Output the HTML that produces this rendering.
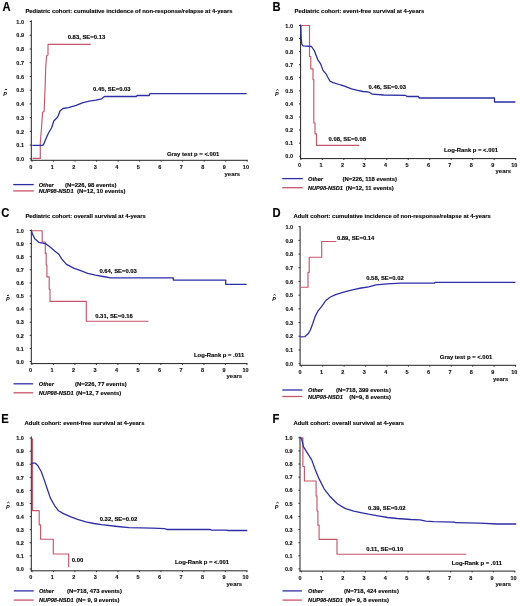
<!DOCTYPE html>
<html><head><meta charset="utf-8"><style>
html,body{margin:0;padding:0;background:#fff;overflow:hidden;}
svg{display:block;font-family:"Liberation Sans", sans-serif;will-change:transform;}
</style></head><body>
<svg width="520" height="606" viewBox="0 0 520 606">
<rect width="520" height="606" fill="#fff"/>
<g transform="translate(2.60,11.00) scale(1,1.09)">
<text x="0.00" y="0.00" font-size="11.2" text-anchor="start" font-weight="bold" font-style="normal" fill="#000" stroke="#000" stroke-width="0.12" >A</text>
</g>
<text x="25.40" y="12.70" font-size="5.9" text-anchor="start" font-weight="bold" font-style="normal" fill="#000" stroke="#000" stroke-width="0.12" >Pediatric cohort: cumulative incidence of non-response/relapse at 4-years</text>
<line x1="31.30" y1="20.20" x2="31.30" y2="160.80" stroke="#222" stroke-width="1.0"/>
<line x1="30.80" y1="160.30" x2="247.80" y2="160.30" stroke="#222" stroke-width="1.0"/>
<line x1="29.70" y1="158.80" x2="31.30" y2="158.80" stroke="#222" stroke-width="0.9"/>
<text x="24.00" y="161.00" font-size="5.5" text-anchor="end" font-weight="bold" font-style="normal" fill="#111" stroke="#111" stroke-width="0.12" >0.0</text>
<line x1="29.70" y1="145.07" x2="31.30" y2="145.07" stroke="#222" stroke-width="0.9"/>
<text x="24.00" y="147.27" font-size="5.5" text-anchor="end" font-weight="bold" font-style="normal" fill="#111" stroke="#111" stroke-width="0.12" >0.1</text>
<line x1="29.70" y1="131.34" x2="31.30" y2="131.34" stroke="#222" stroke-width="0.9"/>
<text x="24.00" y="133.54" font-size="5.5" text-anchor="end" font-weight="bold" font-style="normal" fill="#111" stroke="#111" stroke-width="0.12" >0.2</text>
<line x1="29.70" y1="117.61" x2="31.30" y2="117.61" stroke="#222" stroke-width="0.9"/>
<text x="24.00" y="119.81" font-size="5.5" text-anchor="end" font-weight="bold" font-style="normal" fill="#111" stroke="#111" stroke-width="0.12" >0.3</text>
<line x1="29.70" y1="103.88" x2="31.30" y2="103.88" stroke="#222" stroke-width="0.9"/>
<text x="24.00" y="106.08" font-size="5.5" text-anchor="end" font-weight="bold" font-style="normal" fill="#111" stroke="#111" stroke-width="0.12" >0.4</text>
<line x1="29.70" y1="90.15" x2="31.30" y2="90.15" stroke="#222" stroke-width="0.9"/>
<text x="24.00" y="92.35" font-size="5.5" text-anchor="end" font-weight="bold" font-style="normal" fill="#111" stroke="#111" stroke-width="0.12" >0.5</text>
<line x1="29.70" y1="76.42" x2="31.30" y2="76.42" stroke="#222" stroke-width="0.9"/>
<text x="24.00" y="78.62" font-size="5.5" text-anchor="end" font-weight="bold" font-style="normal" fill="#111" stroke="#111" stroke-width="0.12" >0.6</text>
<line x1="29.70" y1="62.69" x2="31.30" y2="62.69" stroke="#222" stroke-width="0.9"/>
<text x="24.00" y="64.89" font-size="5.5" text-anchor="end" font-weight="bold" font-style="normal" fill="#111" stroke="#111" stroke-width="0.12" >0.7</text>
<line x1="29.70" y1="48.96" x2="31.30" y2="48.96" stroke="#222" stroke-width="0.9"/>
<text x="24.00" y="51.16" font-size="5.5" text-anchor="end" font-weight="bold" font-style="normal" fill="#111" stroke="#111" stroke-width="0.12" >0.8</text>
<line x1="29.70" y1="35.23" x2="31.30" y2="35.23" stroke="#222" stroke-width="0.9"/>
<text x="24.00" y="37.43" font-size="5.5" text-anchor="end" font-weight="bold" font-style="normal" fill="#111" stroke="#111" stroke-width="0.12" >0.9</text>
<line x1="29.70" y1="21.50" x2="31.30" y2="21.50" stroke="#222" stroke-width="0.9"/>
<text x="24.00" y="23.70" font-size="5.5" text-anchor="end" font-weight="bold" font-style="normal" fill="#111" stroke="#111" stroke-width="0.12" >1.0</text>
<line x1="32.00" y1="160.30" x2="32.00" y2="161.70" stroke="#222" stroke-width="0.9"/>
<text x="30.70" y="168.90" font-size="5.5" text-anchor="middle" font-weight="bold" font-style="normal" fill="#111" stroke="#111" stroke-width="0.12" >0</text>
<line x1="53.52" y1="160.30" x2="53.52" y2="161.70" stroke="#222" stroke-width="0.9"/>
<text x="52.22" y="168.90" font-size="5.5" text-anchor="middle" font-weight="bold" font-style="normal" fill="#111" stroke="#111" stroke-width="0.12" >1</text>
<line x1="75.04" y1="160.30" x2="75.04" y2="161.70" stroke="#222" stroke-width="0.9"/>
<text x="73.74" y="168.90" font-size="5.5" text-anchor="middle" font-weight="bold" font-style="normal" fill="#111" stroke="#111" stroke-width="0.12" >2</text>
<line x1="96.56" y1="160.30" x2="96.56" y2="161.70" stroke="#222" stroke-width="0.9"/>
<text x="95.26" y="168.90" font-size="5.5" text-anchor="middle" font-weight="bold" font-style="normal" fill="#111" stroke="#111" stroke-width="0.12" >3</text>
<line x1="118.08" y1="160.30" x2="118.08" y2="161.70" stroke="#222" stroke-width="0.9"/>
<text x="116.78" y="168.90" font-size="5.5" text-anchor="middle" font-weight="bold" font-style="normal" fill="#111" stroke="#111" stroke-width="0.12" >4</text>
<line x1="139.60" y1="160.30" x2="139.60" y2="161.70" stroke="#222" stroke-width="0.9"/>
<text x="138.30" y="168.90" font-size="5.5" text-anchor="middle" font-weight="bold" font-style="normal" fill="#111" stroke="#111" stroke-width="0.12" >5</text>
<line x1="161.12" y1="160.30" x2="161.12" y2="161.70" stroke="#222" stroke-width="0.9"/>
<text x="159.82" y="168.90" font-size="5.5" text-anchor="middle" font-weight="bold" font-style="normal" fill="#111" stroke="#111" stroke-width="0.12" >6</text>
<line x1="182.64" y1="160.30" x2="182.64" y2="161.70" stroke="#222" stroke-width="0.9"/>
<text x="181.34" y="168.90" font-size="5.5" text-anchor="middle" font-weight="bold" font-style="normal" fill="#111" stroke="#111" stroke-width="0.12" >7</text>
<line x1="204.16" y1="160.30" x2="204.16" y2="161.70" stroke="#222" stroke-width="0.9"/>
<text x="202.86" y="168.90" font-size="5.5" text-anchor="middle" font-weight="bold" font-style="normal" fill="#111" stroke="#111" stroke-width="0.12" >8</text>
<line x1="225.68" y1="160.30" x2="225.68" y2="161.70" stroke="#222" stroke-width="0.9"/>
<text x="224.38" y="168.90" font-size="5.5" text-anchor="middle" font-weight="bold" font-style="normal" fill="#111" stroke="#111" stroke-width="0.12" >9</text>
<line x1="247.20" y1="160.30" x2="247.20" y2="161.70" stroke="#222" stroke-width="0.9"/>
<text x="245.90" y="168.90" font-size="5.5" text-anchor="middle" font-weight="bold" font-style="normal" fill="#111" stroke="#111" stroke-width="0.12" >10</text>
<text x="224.60" y="175.60" font-size="5.9" text-anchor="start" font-weight="bold" font-style="normal" fill="#111" stroke="#111" stroke-width="0.12" >years</text>
<text x="5.05" y="95.70" font-size="5.4" font-weight="bold" font-style="italic" text-anchor="middle" fill="#000">P</text>
<path d="M4.85,89.95 L5.95,89.15 L7.05,89.95" fill="none" stroke="#000" stroke-width="0.9"/>
<polyline points="32.40,158.40 40.30,158.40 40.30,143.00 41.50,128.00 42.60,112.30 44.10,111.50 45.00,90.00 45.70,67.70 46.60,56.00 48.00,55.00 48.00,44.40 90.80,44.40" fill="none" stroke="#c8566a" stroke-width="1.15" stroke-linejoin="round"/>
<polyline points="32.30,145.40 42.80,145.40 43.80,144.00 45.40,140.00 48.50,133.00 51.50,128.00 53.80,121.00 57.70,117.00 60.00,111.00 63.00,108.50 68.50,107.70 76.20,105.40 82.30,102.80 89.20,101.20 96.00,100.20 101.50,98.80 104.60,96.50 136.20,96.50 137.20,95.50 149.20,95.50 149.80,93.60 246.60,93.60" fill="none" stroke="#2e2ea6" stroke-width="1.3" stroke-linejoin="round"/>
<text x="67.70" y="38.60" font-size="5.9" text-anchor="start" font-weight="bold" font-style="normal" fill="#000" stroke="#000" stroke-width="0.12" >0.83, SE=0.13</text>
<text x="93.10" y="91.10" font-size="5.9" text-anchor="start" font-weight="bold" font-style="normal" fill="#000" stroke="#000" stroke-width="0.12" >0.45, SE=0.03</text>
<text x="166.90" y="156.10" font-size="5.9" text-anchor="start" font-weight="bold" font-style="normal" fill="#000" stroke="#000" stroke-width="0.12" >Gray test p = &lt;.001</text>
<line x1="13.20" y1="184.60" x2="33.80" y2="184.60" stroke="#2e2ea6" stroke-width="1.3"/>
<line x1="13.20" y1="190.90" x2="33.80" y2="190.90" stroke="#c8566a" stroke-width="1.3"/>
<text x="38.70" y="186.80" font-size="5.65" text-anchor="start" font-weight="bold" font-style="italic" fill="#000" stroke="#000" stroke-width="0.12" >Other</text>
<text x="38.70" y="193.10" font-size="5.6" text-anchor="start" font-weight="bold" font-style="italic" fill="#000" stroke="#000" stroke-width="0.12" >NUP98-NSD1</text>
<text x="65.00" y="186.80" font-size="5.9" text-anchor="start" font-weight="bold" font-style="normal" fill="#000" stroke="#000" stroke-width="0.12" >(N=226, 98 events)</text>
<text x="77.10" y="193.10" font-size="5.9" text-anchor="start" font-weight="bold" font-style="normal" fill="#000" stroke="#000" stroke-width="0.12" >(N=12, 10 events)</text>
<g transform="translate(272.40,11.00) scale(1,1.09)">
<text x="0.00" y="0.00" font-size="11.2" text-anchor="start" font-weight="bold" font-style="normal" fill="#000" stroke="#000" stroke-width="0.12" >B</text>
</g>
<text x="294.60" y="12.80" font-size="5.9" text-anchor="start" font-weight="bold" font-style="normal" fill="#000" stroke="#000" stroke-width="0.12" >Pediatric cohort: event-free survival at 4-years</text>
<line x1="300.60" y1="24.50" x2="300.60" y2="159.10" stroke="#222" stroke-width="1.0"/>
<line x1="300.10" y1="158.60" x2="516.20" y2="158.60" stroke="#222" stroke-width="1.0"/>
<line x1="299.00" y1="156.20" x2="300.60" y2="156.20" stroke="#222" stroke-width="0.9"/>
<text x="293.00" y="158.40" font-size="5.5" text-anchor="end" font-weight="bold" font-style="normal" fill="#111" stroke="#111" stroke-width="0.12" >0.0</text>
<line x1="299.00" y1="143.13" x2="300.60" y2="143.13" stroke="#222" stroke-width="0.9"/>
<text x="293.00" y="145.33" font-size="5.5" text-anchor="end" font-weight="bold" font-style="normal" fill="#111" stroke="#111" stroke-width="0.12" >0.1</text>
<line x1="299.00" y1="130.06" x2="300.60" y2="130.06" stroke="#222" stroke-width="0.9"/>
<text x="293.00" y="132.26" font-size="5.5" text-anchor="end" font-weight="bold" font-style="normal" fill="#111" stroke="#111" stroke-width="0.12" >0.2</text>
<line x1="299.00" y1="116.99" x2="300.60" y2="116.99" stroke="#222" stroke-width="0.9"/>
<text x="293.00" y="119.19" font-size="5.5" text-anchor="end" font-weight="bold" font-style="normal" fill="#111" stroke="#111" stroke-width="0.12" >0.3</text>
<line x1="299.00" y1="103.92" x2="300.60" y2="103.92" stroke="#222" stroke-width="0.9"/>
<text x="293.00" y="106.12" font-size="5.5" text-anchor="end" font-weight="bold" font-style="normal" fill="#111" stroke="#111" stroke-width="0.12" >0.4</text>
<line x1="299.00" y1="90.85" x2="300.60" y2="90.85" stroke="#222" stroke-width="0.9"/>
<text x="293.00" y="93.05" font-size="5.5" text-anchor="end" font-weight="bold" font-style="normal" fill="#111" stroke="#111" stroke-width="0.12" >0.5</text>
<line x1="299.00" y1="77.78" x2="300.60" y2="77.78" stroke="#222" stroke-width="0.9"/>
<text x="293.00" y="79.98" font-size="5.5" text-anchor="end" font-weight="bold" font-style="normal" fill="#111" stroke="#111" stroke-width="0.12" >0.6</text>
<line x1="299.00" y1="64.71" x2="300.60" y2="64.71" stroke="#222" stroke-width="0.9"/>
<text x="293.00" y="66.91" font-size="5.5" text-anchor="end" font-weight="bold" font-style="normal" fill="#111" stroke="#111" stroke-width="0.12" >0.7</text>
<line x1="299.00" y1="51.64" x2="300.60" y2="51.64" stroke="#222" stroke-width="0.9"/>
<text x="293.00" y="53.84" font-size="5.5" text-anchor="end" font-weight="bold" font-style="normal" fill="#111" stroke="#111" stroke-width="0.12" >0.8</text>
<line x1="299.00" y1="38.57" x2="300.60" y2="38.57" stroke="#222" stroke-width="0.9"/>
<text x="293.00" y="40.77" font-size="5.5" text-anchor="end" font-weight="bold" font-style="normal" fill="#111" stroke="#111" stroke-width="0.12" >0.9</text>
<line x1="299.00" y1="25.50" x2="300.60" y2="25.50" stroke="#222" stroke-width="0.9"/>
<text x="293.00" y="27.70" font-size="5.5" text-anchor="end" font-weight="bold" font-style="normal" fill="#111" stroke="#111" stroke-width="0.12" >1.0</text>
<line x1="300.90" y1="158.60" x2="300.90" y2="160.00" stroke="#222" stroke-width="0.9"/>
<text x="299.60" y="167.20" font-size="5.5" text-anchor="middle" font-weight="bold" font-style="normal" fill="#111" stroke="#111" stroke-width="0.12" >0</text>
<line x1="322.37" y1="158.60" x2="322.37" y2="160.00" stroke="#222" stroke-width="0.9"/>
<text x="321.07" y="167.20" font-size="5.5" text-anchor="middle" font-weight="bold" font-style="normal" fill="#111" stroke="#111" stroke-width="0.12" >1</text>
<line x1="343.84" y1="158.60" x2="343.84" y2="160.00" stroke="#222" stroke-width="0.9"/>
<text x="342.54" y="167.20" font-size="5.5" text-anchor="middle" font-weight="bold" font-style="normal" fill="#111" stroke="#111" stroke-width="0.12" >2</text>
<line x1="365.31" y1="158.60" x2="365.31" y2="160.00" stroke="#222" stroke-width="0.9"/>
<text x="364.01" y="167.20" font-size="5.5" text-anchor="middle" font-weight="bold" font-style="normal" fill="#111" stroke="#111" stroke-width="0.12" >3</text>
<line x1="386.78" y1="158.60" x2="386.78" y2="160.00" stroke="#222" stroke-width="0.9"/>
<text x="385.48" y="167.20" font-size="5.5" text-anchor="middle" font-weight="bold" font-style="normal" fill="#111" stroke="#111" stroke-width="0.12" >4</text>
<line x1="408.25" y1="158.60" x2="408.25" y2="160.00" stroke="#222" stroke-width="0.9"/>
<text x="406.95" y="167.20" font-size="5.5" text-anchor="middle" font-weight="bold" font-style="normal" fill="#111" stroke="#111" stroke-width="0.12" >5</text>
<line x1="429.72" y1="158.60" x2="429.72" y2="160.00" stroke="#222" stroke-width="0.9"/>
<text x="428.42" y="167.20" font-size="5.5" text-anchor="middle" font-weight="bold" font-style="normal" fill="#111" stroke="#111" stroke-width="0.12" >6</text>
<line x1="451.19" y1="158.60" x2="451.19" y2="160.00" stroke="#222" stroke-width="0.9"/>
<text x="449.89" y="167.20" font-size="5.5" text-anchor="middle" font-weight="bold" font-style="normal" fill="#111" stroke="#111" stroke-width="0.12" >7</text>
<line x1="472.66" y1="158.60" x2="472.66" y2="160.00" stroke="#222" stroke-width="0.9"/>
<text x="471.36" y="167.20" font-size="5.5" text-anchor="middle" font-weight="bold" font-style="normal" fill="#111" stroke="#111" stroke-width="0.12" >8</text>
<line x1="494.13" y1="158.60" x2="494.13" y2="160.00" stroke="#222" stroke-width="0.9"/>
<text x="492.83" y="167.20" font-size="5.5" text-anchor="middle" font-weight="bold" font-style="normal" fill="#111" stroke="#111" stroke-width="0.12" >9</text>
<line x1="515.60" y1="158.60" x2="515.60" y2="160.00" stroke="#222" stroke-width="0.9"/>
<text x="514.30" y="167.20" font-size="5.5" text-anchor="middle" font-weight="bold" font-style="normal" fill="#111" stroke="#111" stroke-width="0.12" >10</text>
<text x="495.60" y="173.30" font-size="5.9" text-anchor="start" font-weight="bold" font-style="normal" fill="#111" stroke="#111" stroke-width="0.12" >years</text>
<text x="276.90" y="95.90" font-size="5.4" font-weight="bold" font-style="italic" text-anchor="middle" fill="#000">P</text>
<path d="M276.40,90.35 L277.50,89.55 L278.60,90.35" fill="none" stroke="#000" stroke-width="0.9"/>
<polyline points="300.80,25.50 309.50,25.50 309.50,56.50 310.80,56.50 310.80,68.80 313.00,68.80 313.00,79.60 313.80,79.60 313.80,123.00 315.00,123.00 315.00,133.80 316.50,133.80 316.50,145.40 359.20,145.40" fill="none" stroke="#c8566a" stroke-width="1.15" stroke-linejoin="round"/>
<polyline points="300.80,25.50 301.20,38.00 301.80,44.20 303.00,45.80 311.50,46.50 314.60,51.20 317.70,59.60 320.80,64.20 323.00,70.40 326.20,74.20 330.00,81.20 333.00,82.70 340.80,85.00 343.80,85.80 351.50,88.80 357.70,90.40 363.00,91.50 369.20,92.20 372.30,94.20 383.80,95.00 405.40,95.30 407.00,96.50 418.50,96.50 419.20,98.00 494.50,98.00 494.50,102.00 515.40,102.00" fill="none" stroke="#2e2ea6" stroke-width="1.3" stroke-linejoin="round"/>
<text x="368.50" y="89.10" font-size="5.9" text-anchor="start" font-weight="bold" font-style="normal" fill="#000" stroke="#000" stroke-width="0.12" >0.46, SE=0.03</text>
<text x="328.50" y="141.30" font-size="5.9" text-anchor="start" font-weight="bold" font-style="normal" fill="#000" stroke="#000" stroke-width="0.12" >0.08, SE=0.08</text>
<text x="444.00" y="151.80" font-size="5.9" text-anchor="start" font-weight="bold" font-style="normal" fill="#000" stroke="#000" stroke-width="0.12" >Log-Rank p = &lt;.001</text>
<line x1="282.20" y1="178.60" x2="302.80" y2="178.60" stroke="#2e2ea6" stroke-width="1.3"/>
<line x1="282.20" y1="187.70" x2="302.80" y2="187.70" stroke="#c8566a" stroke-width="1.3"/>
<text x="308.00" y="180.80" font-size="5.65" text-anchor="start" font-weight="bold" font-style="italic" fill="#000" stroke="#000" stroke-width="0.12" >Other</text>
<text x="308.00" y="189.90" font-size="5.6" text-anchor="start" font-weight="bold" font-style="italic" fill="#000" stroke="#000" stroke-width="0.12" >NUP98-NSD1</text>
<text x="342.50" y="180.80" font-size="5.9" text-anchor="start" font-weight="bold" font-style="normal" fill="#000" stroke="#000" stroke-width="0.12" >(N=226, 118 events)</text>
<text x="345.80" y="189.90" font-size="5.9" text-anchor="start" font-weight="bold" font-style="normal" fill="#000" stroke="#000" stroke-width="0.12" >(N=12, 11 events)</text>
<g transform="translate(1.20,216.80) scale(1,1.09)">
<text x="0.00" y="0.00" font-size="11.2" text-anchor="start" font-weight="bold" font-style="normal" fill="#000" stroke="#000" stroke-width="0.12" >C</text>
</g>
<text x="25.40" y="217.70" font-size="5.9" text-anchor="start" font-weight="bold" font-style="normal" fill="#000" stroke="#000" stroke-width="0.12" >Pediatric cohort: overall survival at 4-years</text>
<line x1="31.30" y1="229.50" x2="31.30" y2="364.10" stroke="#222" stroke-width="1.0"/>
<line x1="30.80" y1="363.60" x2="247.50" y2="363.60" stroke="#222" stroke-width="1.0"/>
<line x1="29.70" y1="361.50" x2="31.30" y2="361.50" stroke="#222" stroke-width="0.9"/>
<text x="23.80" y="363.70" font-size="5.5" text-anchor="end" font-weight="bold" font-style="normal" fill="#111" stroke="#111" stroke-width="0.12" >0.0</text>
<line x1="29.70" y1="348.40" x2="31.30" y2="348.40" stroke="#222" stroke-width="0.9"/>
<text x="23.80" y="350.60" font-size="5.5" text-anchor="end" font-weight="bold" font-style="normal" fill="#111" stroke="#111" stroke-width="0.12" >0.1</text>
<line x1="29.70" y1="335.30" x2="31.30" y2="335.30" stroke="#222" stroke-width="0.9"/>
<text x="23.80" y="337.50" font-size="5.5" text-anchor="end" font-weight="bold" font-style="normal" fill="#111" stroke="#111" stroke-width="0.12" >0.2</text>
<line x1="29.70" y1="322.20" x2="31.30" y2="322.20" stroke="#222" stroke-width="0.9"/>
<text x="23.80" y="324.40" font-size="5.5" text-anchor="end" font-weight="bold" font-style="normal" fill="#111" stroke="#111" stroke-width="0.12" >0.3</text>
<line x1="29.70" y1="309.10" x2="31.30" y2="309.10" stroke="#222" stroke-width="0.9"/>
<text x="23.80" y="311.30" font-size="5.5" text-anchor="end" font-weight="bold" font-style="normal" fill="#111" stroke="#111" stroke-width="0.12" >0.4</text>
<line x1="29.70" y1="296.00" x2="31.30" y2="296.00" stroke="#222" stroke-width="0.9"/>
<text x="23.80" y="298.20" font-size="5.5" text-anchor="end" font-weight="bold" font-style="normal" fill="#111" stroke="#111" stroke-width="0.12" >0.5</text>
<line x1="29.70" y1="282.90" x2="31.30" y2="282.90" stroke="#222" stroke-width="0.9"/>
<text x="23.80" y="285.10" font-size="5.5" text-anchor="end" font-weight="bold" font-style="normal" fill="#111" stroke="#111" stroke-width="0.12" >0.6</text>
<line x1="29.70" y1="269.80" x2="31.30" y2="269.80" stroke="#222" stroke-width="0.9"/>
<text x="23.80" y="272.00" font-size="5.5" text-anchor="end" font-weight="bold" font-style="normal" fill="#111" stroke="#111" stroke-width="0.12" >0.7</text>
<line x1="29.70" y1="256.70" x2="31.30" y2="256.70" stroke="#222" stroke-width="0.9"/>
<text x="23.80" y="258.90" font-size="5.5" text-anchor="end" font-weight="bold" font-style="normal" fill="#111" stroke="#111" stroke-width="0.12" >0.8</text>
<line x1="29.70" y1="243.60" x2="31.30" y2="243.60" stroke="#222" stroke-width="0.9"/>
<text x="23.80" y="245.80" font-size="5.5" text-anchor="end" font-weight="bold" font-style="normal" fill="#111" stroke="#111" stroke-width="0.12" >0.9</text>
<line x1="29.70" y1="230.50" x2="31.30" y2="230.50" stroke="#222" stroke-width="0.9"/>
<text x="23.80" y="232.70" font-size="5.5" text-anchor="end" font-weight="bold" font-style="normal" fill="#111" stroke="#111" stroke-width="0.12" >1.0</text>
<line x1="31.90" y1="363.60" x2="31.90" y2="365.00" stroke="#222" stroke-width="0.9"/>
<text x="30.60" y="372.20" font-size="5.5" text-anchor="middle" font-weight="bold" font-style="normal" fill="#111" stroke="#111" stroke-width="0.12" >0</text>
<line x1="53.40" y1="363.60" x2="53.40" y2="365.00" stroke="#222" stroke-width="0.9"/>
<text x="52.10" y="372.20" font-size="5.5" text-anchor="middle" font-weight="bold" font-style="normal" fill="#111" stroke="#111" stroke-width="0.12" >1</text>
<line x1="74.90" y1="363.60" x2="74.90" y2="365.00" stroke="#222" stroke-width="0.9"/>
<text x="73.60" y="372.20" font-size="5.5" text-anchor="middle" font-weight="bold" font-style="normal" fill="#111" stroke="#111" stroke-width="0.12" >2</text>
<line x1="96.40" y1="363.60" x2="96.40" y2="365.00" stroke="#222" stroke-width="0.9"/>
<text x="95.10" y="372.20" font-size="5.5" text-anchor="middle" font-weight="bold" font-style="normal" fill="#111" stroke="#111" stroke-width="0.12" >3</text>
<line x1="117.90" y1="363.60" x2="117.90" y2="365.00" stroke="#222" stroke-width="0.9"/>
<text x="116.60" y="372.20" font-size="5.5" text-anchor="middle" font-weight="bold" font-style="normal" fill="#111" stroke="#111" stroke-width="0.12" >4</text>
<line x1="139.40" y1="363.60" x2="139.40" y2="365.00" stroke="#222" stroke-width="0.9"/>
<text x="138.10" y="372.20" font-size="5.5" text-anchor="middle" font-weight="bold" font-style="normal" fill="#111" stroke="#111" stroke-width="0.12" >5</text>
<line x1="160.90" y1="363.60" x2="160.90" y2="365.00" stroke="#222" stroke-width="0.9"/>
<text x="159.60" y="372.20" font-size="5.5" text-anchor="middle" font-weight="bold" font-style="normal" fill="#111" stroke="#111" stroke-width="0.12" >6</text>
<line x1="182.40" y1="363.60" x2="182.40" y2="365.00" stroke="#222" stroke-width="0.9"/>
<text x="181.10" y="372.20" font-size="5.5" text-anchor="middle" font-weight="bold" font-style="normal" fill="#111" stroke="#111" stroke-width="0.12" >7</text>
<line x1="203.90" y1="363.60" x2="203.90" y2="365.00" stroke="#222" stroke-width="0.9"/>
<text x="202.60" y="372.20" font-size="5.5" text-anchor="middle" font-weight="bold" font-style="normal" fill="#111" stroke="#111" stroke-width="0.12" >8</text>
<line x1="225.40" y1="363.60" x2="225.40" y2="365.00" stroke="#222" stroke-width="0.9"/>
<text x="224.10" y="372.20" font-size="5.5" text-anchor="middle" font-weight="bold" font-style="normal" fill="#111" stroke="#111" stroke-width="0.12" >9</text>
<line x1="246.90" y1="363.60" x2="246.90" y2="365.00" stroke="#222" stroke-width="0.9"/>
<text x="245.60" y="372.20" font-size="5.5" text-anchor="middle" font-weight="bold" font-style="normal" fill="#111" stroke="#111" stroke-width="0.12" >10</text>
<text x="226.60" y="378.00" font-size="5.9" text-anchor="start" font-weight="bold" font-style="normal" fill="#111" stroke="#111" stroke-width="0.12" >years</text>
<text x="7.70" y="301.30" font-size="5.4" font-weight="bold" font-style="italic" text-anchor="middle" fill="#000">P</text>
<path d="M7.00,295.85 L8.10,295.05 L9.20,295.85" fill="none" stroke="#000" stroke-width="0.9"/>
<polyline points="31.50,230.70 42.20,230.70 42.20,242.00 45.30,242.00 45.30,253.50 46.20,253.00 46.20,265.00 46.90,265.00 46.90,276.90 49.20,276.90 49.20,289.20 50.00,289.20 50.00,301.30 86.30,301.30 86.30,321.20 148.50,321.20" fill="none" stroke="#c8566a" stroke-width="1.15" stroke-linejoin="round"/>
<polyline points="31.50,230.80 32.30,233.80 34.80,238.70 38.70,242.30 45.40,243.60 49.20,246.30 55.00,251.20 58.80,254.20 61.70,258.80 66.50,264.40 74.20,268.40 80.00,270.40 87.70,273.30 95.40,275.20 103.00,276.50 110.80,277.80 173.30,277.80 173.30,280.10 225.70,280.10 225.70,284.30 246.70,284.30" fill="none" stroke="#2e2ea6" stroke-width="1.3" stroke-linejoin="round"/>
<text x="99.40" y="272.90" font-size="5.9" text-anchor="start" font-weight="bold" font-style="normal" fill="#000" stroke="#000" stroke-width="0.12" >0.64, SE=0.03</text>
<text x="95.20" y="317.50" font-size="5.9" text-anchor="start" font-weight="bold" font-style="normal" fill="#000" stroke="#000" stroke-width="0.12" >0.31, SE=0.16</text>
<text x="194.00" y="357.30" font-size="5.9" text-anchor="start" font-weight="bold" font-style="normal" fill="#000" stroke="#000" stroke-width="0.12" >Log-Rank p = .011</text>
<line x1="13.50" y1="383.80" x2="33.10" y2="383.80" stroke="#2e2ea6" stroke-width="1.3"/>
<line x1="13.50" y1="392.80" x2="33.10" y2="392.80" stroke="#c8566a" stroke-width="1.3"/>
<text x="38.80" y="386.00" font-size="5.65" text-anchor="start" font-weight="bold" font-style="italic" fill="#000" stroke="#000" stroke-width="0.12" >Other</text>
<text x="38.80" y="395.00" font-size="5.6" text-anchor="start" font-weight="bold" font-style="italic" fill="#000" stroke="#000" stroke-width="0.12" >NUP98-NSD1</text>
<text x="75.10" y="386.00" font-size="5.9" text-anchor="start" font-weight="bold" font-style="normal" fill="#000" stroke="#000" stroke-width="0.12" >(N=226, 77 events)</text>
<text x="76.10" y="395.00" font-size="5.9" text-anchor="start" font-weight="bold" font-style="normal" fill="#000" stroke="#000" stroke-width="0.12" >(N=12, 7 events)</text>
<g transform="translate(272.60,216.60) scale(1,1.09)">
<text x="0.00" y="0.00" font-size="11.2" text-anchor="start" font-weight="bold" font-style="normal" fill="#000" stroke="#000" stroke-width="0.12" >D</text>
</g>
<text x="293.50" y="217.70" font-size="5.9" text-anchor="start" font-weight="bold" font-style="normal" fill="#000" stroke="#000" stroke-width="0.12" >Adult cohort: cumulative incidence of non-response/relapse at 4-years</text>
<line x1="300.10" y1="226.20" x2="300.10" y2="365.80" stroke="#222" stroke-width="1.0"/>
<line x1="299.60" y1="365.30" x2="516.10" y2="365.30" stroke="#222" stroke-width="1.0"/>
<line x1="298.50" y1="363.60" x2="300.10" y2="363.60" stroke="#222" stroke-width="0.9"/>
<text x="293.10" y="365.80" font-size="5.5" text-anchor="end" font-weight="bold" font-style="normal" fill="#111" stroke="#111" stroke-width="0.12" >0.0</text>
<line x1="298.50" y1="349.91" x2="300.10" y2="349.91" stroke="#222" stroke-width="0.9"/>
<text x="293.10" y="352.11" font-size="5.5" text-anchor="end" font-weight="bold" font-style="normal" fill="#111" stroke="#111" stroke-width="0.12" >0.1</text>
<line x1="298.50" y1="336.22" x2="300.10" y2="336.22" stroke="#222" stroke-width="0.9"/>
<text x="293.10" y="338.42" font-size="5.5" text-anchor="end" font-weight="bold" font-style="normal" fill="#111" stroke="#111" stroke-width="0.12" >0.2</text>
<line x1="298.50" y1="322.53" x2="300.10" y2="322.53" stroke="#222" stroke-width="0.9"/>
<text x="293.10" y="324.73" font-size="5.5" text-anchor="end" font-weight="bold" font-style="normal" fill="#111" stroke="#111" stroke-width="0.12" >0.3</text>
<line x1="298.50" y1="308.84" x2="300.10" y2="308.84" stroke="#222" stroke-width="0.9"/>
<text x="293.10" y="311.04" font-size="5.5" text-anchor="end" font-weight="bold" font-style="normal" fill="#111" stroke="#111" stroke-width="0.12" >0.4</text>
<line x1="298.50" y1="295.15" x2="300.10" y2="295.15" stroke="#222" stroke-width="0.9"/>
<text x="293.10" y="297.35" font-size="5.5" text-anchor="end" font-weight="bold" font-style="normal" fill="#111" stroke="#111" stroke-width="0.12" >0.5</text>
<line x1="298.50" y1="281.46" x2="300.10" y2="281.46" stroke="#222" stroke-width="0.9"/>
<text x="293.10" y="283.66" font-size="5.5" text-anchor="end" font-weight="bold" font-style="normal" fill="#111" stroke="#111" stroke-width="0.12" >0.6</text>
<line x1="298.50" y1="267.77" x2="300.10" y2="267.77" stroke="#222" stroke-width="0.9"/>
<text x="293.10" y="269.97" font-size="5.5" text-anchor="end" font-weight="bold" font-style="normal" fill="#111" stroke="#111" stroke-width="0.12" >0.7</text>
<line x1="298.50" y1="254.08" x2="300.10" y2="254.08" stroke="#222" stroke-width="0.9"/>
<text x="293.10" y="256.28" font-size="5.5" text-anchor="end" font-weight="bold" font-style="normal" fill="#111" stroke="#111" stroke-width="0.12" >0.8</text>
<line x1="298.50" y1="240.39" x2="300.10" y2="240.39" stroke="#222" stroke-width="0.9"/>
<text x="293.10" y="242.59" font-size="5.5" text-anchor="end" font-weight="bold" font-style="normal" fill="#111" stroke="#111" stroke-width="0.12" >0.9</text>
<line x1="298.50" y1="226.70" x2="300.10" y2="226.70" stroke="#222" stroke-width="0.9"/>
<text x="293.10" y="228.90" font-size="5.5" text-anchor="end" font-weight="bold" font-style="normal" fill="#111" stroke="#111" stroke-width="0.12" >1.0</text>
<line x1="301.30" y1="365.30" x2="301.30" y2="366.70" stroke="#222" stroke-width="0.9"/>
<text x="300.00" y="373.90" font-size="5.5" text-anchor="middle" font-weight="bold" font-style="normal" fill="#111" stroke="#111" stroke-width="0.12" >0</text>
<line x1="322.72" y1="365.30" x2="322.72" y2="366.70" stroke="#222" stroke-width="0.9"/>
<text x="321.42" y="373.90" font-size="5.5" text-anchor="middle" font-weight="bold" font-style="normal" fill="#111" stroke="#111" stroke-width="0.12" >1</text>
<line x1="344.14" y1="365.30" x2="344.14" y2="366.70" stroke="#222" stroke-width="0.9"/>
<text x="342.84" y="373.90" font-size="5.5" text-anchor="middle" font-weight="bold" font-style="normal" fill="#111" stroke="#111" stroke-width="0.12" >2</text>
<line x1="365.56" y1="365.30" x2="365.56" y2="366.70" stroke="#222" stroke-width="0.9"/>
<text x="364.26" y="373.90" font-size="5.5" text-anchor="middle" font-weight="bold" font-style="normal" fill="#111" stroke="#111" stroke-width="0.12" >3</text>
<line x1="386.98" y1="365.30" x2="386.98" y2="366.70" stroke="#222" stroke-width="0.9"/>
<text x="385.68" y="373.90" font-size="5.5" text-anchor="middle" font-weight="bold" font-style="normal" fill="#111" stroke="#111" stroke-width="0.12" >4</text>
<line x1="408.40" y1="365.30" x2="408.40" y2="366.70" stroke="#222" stroke-width="0.9"/>
<text x="407.10" y="373.90" font-size="5.5" text-anchor="middle" font-weight="bold" font-style="normal" fill="#111" stroke="#111" stroke-width="0.12" >5</text>
<line x1="429.82" y1="365.30" x2="429.82" y2="366.70" stroke="#222" stroke-width="0.9"/>
<text x="428.52" y="373.90" font-size="5.5" text-anchor="middle" font-weight="bold" font-style="normal" fill="#111" stroke="#111" stroke-width="0.12" >6</text>
<line x1="451.24" y1="365.30" x2="451.24" y2="366.70" stroke="#222" stroke-width="0.9"/>
<text x="449.94" y="373.90" font-size="5.5" text-anchor="middle" font-weight="bold" font-style="normal" fill="#111" stroke="#111" stroke-width="0.12" >7</text>
<line x1="472.66" y1="365.30" x2="472.66" y2="366.70" stroke="#222" stroke-width="0.9"/>
<text x="471.36" y="373.90" font-size="5.5" text-anchor="middle" font-weight="bold" font-style="normal" fill="#111" stroke="#111" stroke-width="0.12" >8</text>
<line x1="494.08" y1="365.30" x2="494.08" y2="366.70" stroke="#222" stroke-width="0.9"/>
<text x="492.78" y="373.90" font-size="5.5" text-anchor="middle" font-weight="bold" font-style="normal" fill="#111" stroke="#111" stroke-width="0.12" >9</text>
<line x1="515.50" y1="365.30" x2="515.50" y2="366.70" stroke="#222" stroke-width="0.9"/>
<text x="514.20" y="373.90" font-size="5.5" text-anchor="middle" font-weight="bold" font-style="normal" fill="#111" stroke="#111" stroke-width="0.12" >10</text>
<text x="493.00" y="380.90" font-size="5.9" text-anchor="start" font-weight="bold" font-style="normal" fill="#111" stroke="#111" stroke-width="0.12" >years</text>
<text x="274.00" y="300.90" font-size="5.4" font-weight="bold" font-style="italic" text-anchor="middle" fill="#000">P</text>
<path d="M273.50,295.35 L274.60,294.55 L275.70,295.35" fill="none" stroke="#000" stroke-width="0.9"/>
<polyline points="300.30,287.20 308.00,287.20 308.00,272.30 309.20,272.30 309.20,257.20 321.70,257.20 321.70,241.50 336.40,241.50" fill="none" stroke="#c8566a" stroke-width="1.15" stroke-linejoin="round"/>
<polyline points="300.30,336.90 305.00,336.60 308.10,333.80 310.40,330.00 312.70,323.80 315.00,316.90 318.10,310.80 321.90,306.20 325.80,300.50 330.40,297.00 335.00,294.80 341.20,292.80 347.30,291.20 353.50,289.70 361.20,288.00 368.80,286.90 375.80,284.80 387.30,283.80 400.80,283.20 434.60,283.10 435.00,282.40 515.40,282.40" fill="none" stroke="#2e2ea6" stroke-width="1.3" stroke-linejoin="round"/>
<text x="336.90" y="239.80" font-size="5.9" text-anchor="start" font-weight="bold" font-style="normal" fill="#000" stroke="#000" stroke-width="0.12" >0.89, SE=0.14</text>
<text x="366.20" y="279.60" font-size="5.9" text-anchor="start" font-weight="bold" font-style="normal" fill="#000" stroke="#000" stroke-width="0.12" >0.58, SE=0.02</text>
<text x="439.80" y="359.40" font-size="5.9" text-anchor="start" font-weight="bold" font-style="normal" fill="#000" stroke="#000" stroke-width="0.12" >Gray test p = &lt;.001</text>
<line x1="282.30" y1="390.00" x2="302.30" y2="390.00" stroke="#2e2ea6" stroke-width="1.3"/>
<line x1="282.30" y1="396.50" x2="302.30" y2="396.50" stroke="#c8566a" stroke-width="1.3"/>
<text x="308.00" y="392.20" font-size="5.65" text-anchor="start" font-weight="bold" font-style="italic" fill="#000" stroke="#000" stroke-width="0.12" >Other</text>
<text x="308.00" y="398.70" font-size="5.6" text-anchor="start" font-weight="bold" font-style="italic" fill="#000" stroke="#000" stroke-width="0.12" >NUP98-NSD1</text>
<text x="336.00" y="392.20" font-size="5.9" text-anchor="start" font-weight="bold" font-style="normal" fill="#000" stroke="#000" stroke-width="0.12" >(N=718, 399 events)</text>
<text x="349.30" y="398.70" font-size="5.9" text-anchor="start" font-weight="bold" font-style="normal" fill="#000" stroke="#000" stroke-width="0.12" >(N=9, 8 events)</text>
<g transform="translate(1.20,422.60) scale(1,1.09)">
<text x="0.00" y="0.00" font-size="11.2" text-anchor="start" font-weight="bold" font-style="normal" fill="#000" stroke="#000" stroke-width="0.12" >E</text>
</g>
<text x="24.60" y="425.30" font-size="5.9" text-anchor="start" font-weight="bold" font-style="normal" fill="#000" stroke="#000" stroke-width="0.12" >Adult cohort: event-free survival at 4-years</text>
<line x1="31.30" y1="436.50" x2="31.30" y2="571.30" stroke="#222" stroke-width="1.0"/>
<line x1="30.80" y1="570.80" x2="247.50" y2="570.80" stroke="#222" stroke-width="1.0"/>
<line x1="29.70" y1="568.90" x2="31.30" y2="568.90" stroke="#222" stroke-width="0.9"/>
<text x="23.80" y="571.10" font-size="5.5" text-anchor="end" font-weight="bold" font-style="normal" fill="#111" stroke="#111" stroke-width="0.12" >0.0</text>
<line x1="29.70" y1="555.82" x2="31.30" y2="555.82" stroke="#222" stroke-width="0.9"/>
<text x="23.80" y="558.02" font-size="5.5" text-anchor="end" font-weight="bold" font-style="normal" fill="#111" stroke="#111" stroke-width="0.12" >0.1</text>
<line x1="29.70" y1="542.74" x2="31.30" y2="542.74" stroke="#222" stroke-width="0.9"/>
<text x="23.80" y="544.94" font-size="5.5" text-anchor="end" font-weight="bold" font-style="normal" fill="#111" stroke="#111" stroke-width="0.12" >0.2</text>
<line x1="29.70" y1="529.66" x2="31.30" y2="529.66" stroke="#222" stroke-width="0.9"/>
<text x="23.80" y="531.86" font-size="5.5" text-anchor="end" font-weight="bold" font-style="normal" fill="#111" stroke="#111" stroke-width="0.12" >0.3</text>
<line x1="29.70" y1="516.58" x2="31.30" y2="516.58" stroke="#222" stroke-width="0.9"/>
<text x="23.80" y="518.78" font-size="5.5" text-anchor="end" font-weight="bold" font-style="normal" fill="#111" stroke="#111" stroke-width="0.12" >0.4</text>
<line x1="29.70" y1="503.50" x2="31.30" y2="503.50" stroke="#222" stroke-width="0.9"/>
<text x="23.80" y="505.70" font-size="5.5" text-anchor="end" font-weight="bold" font-style="normal" fill="#111" stroke="#111" stroke-width="0.12" >0.5</text>
<line x1="29.70" y1="490.42" x2="31.30" y2="490.42" stroke="#222" stroke-width="0.9"/>
<text x="23.80" y="492.62" font-size="5.5" text-anchor="end" font-weight="bold" font-style="normal" fill="#111" stroke="#111" stroke-width="0.12" >0.6</text>
<line x1="29.70" y1="477.34" x2="31.30" y2="477.34" stroke="#222" stroke-width="0.9"/>
<text x="23.80" y="479.54" font-size="5.5" text-anchor="end" font-weight="bold" font-style="normal" fill="#111" stroke="#111" stroke-width="0.12" >0.7</text>
<line x1="29.70" y1="464.26" x2="31.30" y2="464.26" stroke="#222" stroke-width="0.9"/>
<text x="23.80" y="466.46" font-size="5.5" text-anchor="end" font-weight="bold" font-style="normal" fill="#111" stroke="#111" stroke-width="0.12" >0.8</text>
<line x1="29.70" y1="451.18" x2="31.30" y2="451.18" stroke="#222" stroke-width="0.9"/>
<text x="23.80" y="453.38" font-size="5.5" text-anchor="end" font-weight="bold" font-style="normal" fill="#111" stroke="#111" stroke-width="0.12" >0.9</text>
<line x1="29.70" y1="438.10" x2="31.30" y2="438.10" stroke="#222" stroke-width="0.9"/>
<text x="23.80" y="440.30" font-size="5.5" text-anchor="end" font-weight="bold" font-style="normal" fill="#111" stroke="#111" stroke-width="0.12" >1.0</text>
<line x1="32.00" y1="570.80" x2="32.00" y2="572.20" stroke="#222" stroke-width="0.9"/>
<text x="30.70" y="579.40" font-size="5.5" text-anchor="middle" font-weight="bold" font-style="normal" fill="#111" stroke="#111" stroke-width="0.12" >0</text>
<line x1="53.49" y1="570.80" x2="53.49" y2="572.20" stroke="#222" stroke-width="0.9"/>
<text x="52.19" y="579.40" font-size="5.5" text-anchor="middle" font-weight="bold" font-style="normal" fill="#111" stroke="#111" stroke-width="0.12" >1</text>
<line x1="74.98" y1="570.80" x2="74.98" y2="572.20" stroke="#222" stroke-width="0.9"/>
<text x="73.68" y="579.40" font-size="5.5" text-anchor="middle" font-weight="bold" font-style="normal" fill="#111" stroke="#111" stroke-width="0.12" >2</text>
<line x1="96.47" y1="570.80" x2="96.47" y2="572.20" stroke="#222" stroke-width="0.9"/>
<text x="95.17" y="579.40" font-size="5.5" text-anchor="middle" font-weight="bold" font-style="normal" fill="#111" stroke="#111" stroke-width="0.12" >3</text>
<line x1="117.96" y1="570.80" x2="117.96" y2="572.20" stroke="#222" stroke-width="0.9"/>
<text x="116.66" y="579.40" font-size="5.5" text-anchor="middle" font-weight="bold" font-style="normal" fill="#111" stroke="#111" stroke-width="0.12" >4</text>
<line x1="139.45" y1="570.80" x2="139.45" y2="572.20" stroke="#222" stroke-width="0.9"/>
<text x="138.15" y="579.40" font-size="5.5" text-anchor="middle" font-weight="bold" font-style="normal" fill="#111" stroke="#111" stroke-width="0.12" >5</text>
<line x1="160.94" y1="570.80" x2="160.94" y2="572.20" stroke="#222" stroke-width="0.9"/>
<text x="159.64" y="579.40" font-size="5.5" text-anchor="middle" font-weight="bold" font-style="normal" fill="#111" stroke="#111" stroke-width="0.12" >6</text>
<line x1="182.43" y1="570.80" x2="182.43" y2="572.20" stroke="#222" stroke-width="0.9"/>
<text x="181.13" y="579.40" font-size="5.5" text-anchor="middle" font-weight="bold" font-style="normal" fill="#111" stroke="#111" stroke-width="0.12" >7</text>
<line x1="203.92" y1="570.80" x2="203.92" y2="572.20" stroke="#222" stroke-width="0.9"/>
<text x="202.62" y="579.40" font-size="5.5" text-anchor="middle" font-weight="bold" font-style="normal" fill="#111" stroke="#111" stroke-width="0.12" >8</text>
<line x1="225.41" y1="570.80" x2="225.41" y2="572.20" stroke="#222" stroke-width="0.9"/>
<text x="224.11" y="579.40" font-size="5.5" text-anchor="middle" font-weight="bold" font-style="normal" fill="#111" stroke="#111" stroke-width="0.12" >9</text>
<line x1="246.90" y1="570.80" x2="246.90" y2="572.20" stroke="#222" stroke-width="0.9"/>
<text x="245.60" y="579.40" font-size="5.5" text-anchor="middle" font-weight="bold" font-style="normal" fill="#111" stroke="#111" stroke-width="0.12" >10</text>
<text x="226.60" y="586.10" font-size="5.9" text-anchor="start" font-weight="bold" font-style="normal" fill="#111" stroke="#111" stroke-width="0.12" >years</text>
<text x="7.70" y="508.80" font-size="5.4" font-weight="bold" font-style="italic" text-anchor="middle" fill="#000">P</text>
<path d="M7.30,502.95 L8.40,502.15 L9.50,502.95" fill="none" stroke="#000" stroke-width="0.9"/>
<polyline points="32.50,438.40 32.50,510.60 39.20,510.60 39.20,524.80 40.60,524.80 40.60,539.20 53.30,539.20 53.30,554.00 68.70,554.00 68.70,567.20" fill="none" stroke="#c8566a" stroke-width="1.15" stroke-linejoin="round"/>
<polyline points="31.30,463.20 35.40,463.20 37.90,465.70 41.20,471.50 44.50,480.60 47.80,490.50 50.30,497.90 54.40,505.30 58.50,510.80 63.50,513.60 70.90,516.90 77.50,519.30 85.80,521.80 94.00,523.50 101.50,524.60 101.50,524.60 117.70,526.50 129.20,527.60 152.30,528.10 164.80,528.60 167.00,529.50 210.30,529.50 211.30,530.10 226.20,530.10 228.30,530.50 247.30,530.50" fill="none" stroke="#2e2ea6" stroke-width="1.3" stroke-linejoin="round"/>
<text x="99.70" y="520.50" font-size="5.9" text-anchor="start" font-weight="bold" font-style="normal" fill="#000" stroke="#000" stroke-width="0.12" >0.32, SE=0.02</text>
<text x="71.80" y="562.40" font-size="5.9" text-anchor="start" font-weight="bold" font-style="normal" fill="#000" stroke="#000" stroke-width="0.12" >0.00</text>
<text x="175.00" y="563.90" font-size="5.9" text-anchor="start" font-weight="bold" font-style="normal" fill="#000" stroke="#000" stroke-width="0.12" >Log-Rank p = &lt;.001</text>
<line x1="13.80" y1="590.90" x2="33.70" y2="590.90" stroke="#2e2ea6" stroke-width="1.3"/>
<line x1="13.80" y1="600.10" x2="33.70" y2="600.10" stroke="#c8566a" stroke-width="1.3"/>
<text x="38.90" y="593.10" font-size="5.65" text-anchor="start" font-weight="bold" font-style="italic" fill="#000" stroke="#000" stroke-width="0.12" >Other</text>
<text x="38.90" y="602.30" font-size="5.6" text-anchor="start" font-weight="bold" font-style="italic" fill="#000" stroke="#000" stroke-width="0.12" >NUP98-NSD1</text>
<text x="67.00" y="593.10" font-size="5.9" text-anchor="start" font-weight="bold" font-style="normal" fill="#000" stroke="#000" stroke-width="0.12" >(N=718, 473 events)</text>
<text x="76.10" y="602.30" font-size="5.9" text-anchor="start" font-weight="bold" font-style="normal" fill="#000" stroke="#000" stroke-width="0.12" >(N= 9, 9 events)</text>
<g transform="translate(272.40,423.20) scale(1,1.09)">
<text x="0.00" y="0.00" font-size="11.2" text-anchor="start" font-weight="bold" font-style="normal" fill="#000" stroke="#000" stroke-width="0.12" >F</text>
</g>
<text x="293.50" y="425.30" font-size="5.9" text-anchor="start" font-weight="bold" font-style="normal" fill="#000" stroke="#000" stroke-width="0.12" >Adult cohort: overall survival at 4-years</text>
<line x1="300.00" y1="436.50" x2="300.00" y2="571.60" stroke="#222" stroke-width="1.0"/>
<line x1="299.50" y1="571.10" x2="515.40" y2="571.10" stroke="#222" stroke-width="1.0"/>
<line x1="298.40" y1="568.90" x2="300.00" y2="568.90" stroke="#222" stroke-width="0.9"/>
<text x="292.60" y="571.10" font-size="5.5" text-anchor="end" font-weight="bold" font-style="normal" fill="#111" stroke="#111" stroke-width="0.12" >0.0</text>
<line x1="298.40" y1="555.79" x2="300.00" y2="555.79" stroke="#222" stroke-width="0.9"/>
<text x="292.60" y="557.99" font-size="5.5" text-anchor="end" font-weight="bold" font-style="normal" fill="#111" stroke="#111" stroke-width="0.12" >0.1</text>
<line x1="298.40" y1="542.68" x2="300.00" y2="542.68" stroke="#222" stroke-width="0.9"/>
<text x="292.60" y="544.88" font-size="5.5" text-anchor="end" font-weight="bold" font-style="normal" fill="#111" stroke="#111" stroke-width="0.12" >0.2</text>
<line x1="298.40" y1="529.57" x2="300.00" y2="529.57" stroke="#222" stroke-width="0.9"/>
<text x="292.60" y="531.77" font-size="5.5" text-anchor="end" font-weight="bold" font-style="normal" fill="#111" stroke="#111" stroke-width="0.12" >0.3</text>
<line x1="298.40" y1="516.46" x2="300.00" y2="516.46" stroke="#222" stroke-width="0.9"/>
<text x="292.60" y="518.66" font-size="5.5" text-anchor="end" font-weight="bold" font-style="normal" fill="#111" stroke="#111" stroke-width="0.12" >0.4</text>
<line x1="298.40" y1="503.35" x2="300.00" y2="503.35" stroke="#222" stroke-width="0.9"/>
<text x="292.60" y="505.55" font-size="5.5" text-anchor="end" font-weight="bold" font-style="normal" fill="#111" stroke="#111" stroke-width="0.12" >0.5</text>
<line x1="298.40" y1="490.24" x2="300.00" y2="490.24" stroke="#222" stroke-width="0.9"/>
<text x="292.60" y="492.44" font-size="5.5" text-anchor="end" font-weight="bold" font-style="normal" fill="#111" stroke="#111" stroke-width="0.12" >0.6</text>
<line x1="298.40" y1="477.13" x2="300.00" y2="477.13" stroke="#222" stroke-width="0.9"/>
<text x="292.60" y="479.33" font-size="5.5" text-anchor="end" font-weight="bold" font-style="normal" fill="#111" stroke="#111" stroke-width="0.12" >0.7</text>
<line x1="298.40" y1="464.02" x2="300.00" y2="464.02" stroke="#222" stroke-width="0.9"/>
<text x="292.60" y="466.22" font-size="5.5" text-anchor="end" font-weight="bold" font-style="normal" fill="#111" stroke="#111" stroke-width="0.12" >0.8</text>
<line x1="298.40" y1="450.91" x2="300.00" y2="450.91" stroke="#222" stroke-width="0.9"/>
<text x="292.60" y="453.11" font-size="5.5" text-anchor="end" font-weight="bold" font-style="normal" fill="#111" stroke="#111" stroke-width="0.12" >0.9</text>
<line x1="298.40" y1="437.80" x2="300.00" y2="437.80" stroke="#222" stroke-width="0.9"/>
<text x="292.60" y="440.00" font-size="5.5" text-anchor="end" font-weight="bold" font-style="normal" fill="#111" stroke="#111" stroke-width="0.12" >1.0</text>
<line x1="301.30" y1="571.10" x2="301.30" y2="572.50" stroke="#222" stroke-width="0.9"/>
<text x="300.00" y="579.70" font-size="5.5" text-anchor="middle" font-weight="bold" font-style="normal" fill="#111" stroke="#111" stroke-width="0.12" >0</text>
<line x1="322.65" y1="571.10" x2="322.65" y2="572.50" stroke="#222" stroke-width="0.9"/>
<text x="321.35" y="579.70" font-size="5.5" text-anchor="middle" font-weight="bold" font-style="normal" fill="#111" stroke="#111" stroke-width="0.12" >1</text>
<line x1="344.00" y1="571.10" x2="344.00" y2="572.50" stroke="#222" stroke-width="0.9"/>
<text x="342.70" y="579.70" font-size="5.5" text-anchor="middle" font-weight="bold" font-style="normal" fill="#111" stroke="#111" stroke-width="0.12" >2</text>
<line x1="365.35" y1="571.10" x2="365.35" y2="572.50" stroke="#222" stroke-width="0.9"/>
<text x="364.05" y="579.70" font-size="5.5" text-anchor="middle" font-weight="bold" font-style="normal" fill="#111" stroke="#111" stroke-width="0.12" >3</text>
<line x1="386.70" y1="571.10" x2="386.70" y2="572.50" stroke="#222" stroke-width="0.9"/>
<text x="385.40" y="579.70" font-size="5.5" text-anchor="middle" font-weight="bold" font-style="normal" fill="#111" stroke="#111" stroke-width="0.12" >4</text>
<line x1="408.05" y1="571.10" x2="408.05" y2="572.50" stroke="#222" stroke-width="0.9"/>
<text x="406.75" y="579.70" font-size="5.5" text-anchor="middle" font-weight="bold" font-style="normal" fill="#111" stroke="#111" stroke-width="0.12" >5</text>
<line x1="429.40" y1="571.10" x2="429.40" y2="572.50" stroke="#222" stroke-width="0.9"/>
<text x="428.10" y="579.70" font-size="5.5" text-anchor="middle" font-weight="bold" font-style="normal" fill="#111" stroke="#111" stroke-width="0.12" >6</text>
<line x1="450.75" y1="571.10" x2="450.75" y2="572.50" stroke="#222" stroke-width="0.9"/>
<text x="449.45" y="579.70" font-size="5.5" text-anchor="middle" font-weight="bold" font-style="normal" fill="#111" stroke="#111" stroke-width="0.12" >7</text>
<line x1="472.10" y1="571.10" x2="472.10" y2="572.50" stroke="#222" stroke-width="0.9"/>
<text x="470.80" y="579.70" font-size="5.5" text-anchor="middle" font-weight="bold" font-style="normal" fill="#111" stroke="#111" stroke-width="0.12" >8</text>
<line x1="493.45" y1="571.10" x2="493.45" y2="572.50" stroke="#222" stroke-width="0.9"/>
<text x="492.15" y="579.70" font-size="5.5" text-anchor="middle" font-weight="bold" font-style="normal" fill="#111" stroke="#111" stroke-width="0.12" >9</text>
<line x1="514.80" y1="571.10" x2="514.80" y2="572.50" stroke="#222" stroke-width="0.9"/>
<text x="513.50" y="579.70" font-size="5.5" text-anchor="middle" font-weight="bold" font-style="normal" fill="#111" stroke="#111" stroke-width="0.12" >10</text>
<text x="495.60" y="585.80" font-size="5.9" text-anchor="start" font-weight="bold" font-style="normal" fill="#111" stroke="#111" stroke-width="0.12" >years</text>
<text x="276.50" y="508.90" font-size="5.4" font-weight="bold" font-style="italic" text-anchor="middle" fill="#000">P</text>
<path d="M276.40,503.05 L277.50,502.25 L278.60,503.05" fill="none" stroke="#000" stroke-width="0.9"/>
<polyline points="300.00,437.80 302.90,437.80 302.90,466.50 304.40,466.50 304.40,481.00 316.10,481.00 316.10,496.00 317.00,496.00 317.00,511.00 317.90,511.00 317.90,525.10 319.10,525.10 319.10,539.30 337.00,539.30 337.00,554.20 466.20,554.20" fill="none" stroke="#c8566a" stroke-width="1.15" stroke-linejoin="round"/>
<polyline points="300.30,437.30 301.80,439.50 303.40,446.70 307.60,453.30 311.70,459.90 315.00,469.00 319.10,478.90 324.10,488.80 329.80,496.20 337.30,503.70 345.50,508.60 353.80,511.10 362.00,512.90 368.50,514.20 378.00,515.80 387.70,517.50 397.30,518.50 410.80,519.50 420.00,519.80 425.80,521.20 433.50,521.70 454.60,522.10 455.60,522.70 479.60,523.10 496.90,524.00 516.20,524.00" fill="none" stroke="#2e2ea6" stroke-width="1.3" stroke-linejoin="round"/>
<text x="368.10" y="510.00" font-size="5.9" text-anchor="start" font-weight="bold" font-style="normal" fill="#000" stroke="#000" stroke-width="0.12" >0.39, SE=0.02</text>
<text x="366.20" y="550.80" font-size="5.9" text-anchor="start" font-weight="bold" font-style="normal" fill="#000" stroke="#000" stroke-width="0.12" >0.11, SE=0.10</text>
<text x="451.70" y="564.60" font-size="5.9" text-anchor="start" font-weight="bold" font-style="normal" fill="#000" stroke="#000" stroke-width="0.12" >Log-Rank p = .011</text>
<line x1="282.50" y1="590.90" x2="301.90" y2="590.90" stroke="#2e2ea6" stroke-width="1.3"/>
<line x1="282.50" y1="600.10" x2="301.90" y2="600.10" stroke="#c8566a" stroke-width="1.3"/>
<text x="308.10" y="593.10" font-size="5.65" text-anchor="start" font-weight="bold" font-style="italic" fill="#000" stroke="#000" stroke-width="0.12" >Other</text>
<text x="308.10" y="602.30" font-size="5.6" text-anchor="start" font-weight="bold" font-style="italic" fill="#000" stroke="#000" stroke-width="0.12" >NUP98-NSD1</text>
<text x="344.00" y="593.10" font-size="5.9" text-anchor="start" font-weight="bold" font-style="normal" fill="#000" stroke="#000" stroke-width="0.12" >(N=718, 424 events)</text>
<text x="345.50" y="602.30" font-size="5.9" text-anchor="start" font-weight="bold" font-style="normal" fill="#000" stroke="#000" stroke-width="0.12" >(N= 9, 8 events)</text>
</svg></body></html>
